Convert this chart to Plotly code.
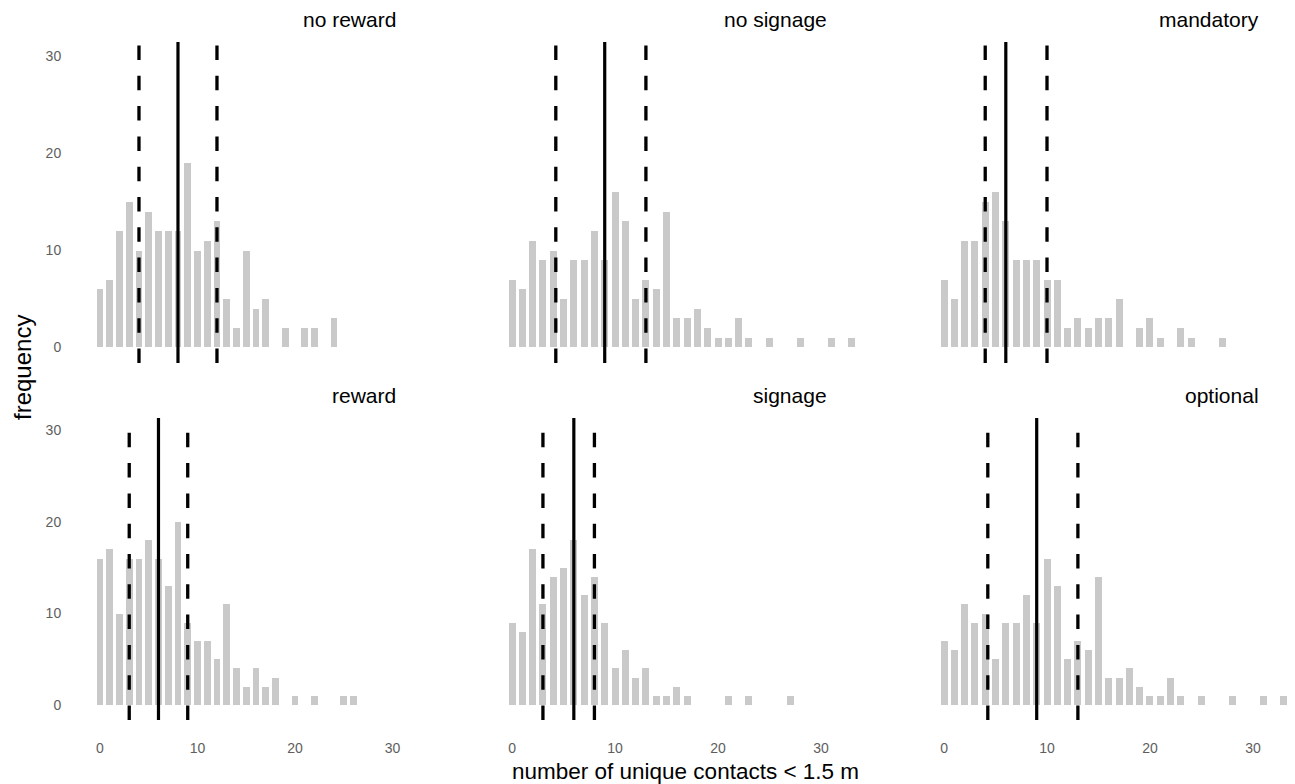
import plotly.graph_objects as go
from plotly.subplots import make_subplots

W, H = 1295, 784

# ---- data (frequency of number of unique contacts, bins 0,1,2,...) ----
panel_titles = ["no reward", "no signage", "mandatory", "reward", "signage", "optional"]

freq_no_reward = [6, 7, 12, 15, 10, 14, 12, 12, 12, 19, 10, 11, 13, 5, 2, 10, 4, 5, 0, 2, 0, 2, 2, 0, 3]
freq_no_signage = [7, 6, 11, 9, 10, 5, 9, 9, 12, 9, 16, 13, 5, 7, 6, 14, 3, 3, 4, 2, 1, 1, 3, 1,
                   0, 1, 0, 0, 1, 0, 0, 1, 0, 1]
freq_mandatory = [7, 5, 11, 11, 15, 16, 13, 9, 9, 9, 7, 7, 2, 3, 2, 3, 3, 5, 0, 2, 3, 1, 0, 2,
                  1, 0, 0, 1]
freq_reward = [16, 17, 10, 16, 16, 18, 16, 13, 20, 9, 7, 7, 5, 11, 4, 2, 4, 2, 3, 0, 1, 0, 1, 0,
               0, 1, 1]
freq_signage = [9, 8, 17, 11, 14, 15, 18, 12, 14, 9, 4, 6, 3, 4, 1, 1, 2, 1, 0, 0, 0, 1, 0, 1,
                0, 0, 0, 1]
freq_optional = [7, 6, 11, 9, 10, 5, 9, 9, 12, 9, 16, 13, 5, 7, 6, 14, 3, 3, 4, 2, 1, 1, 3, 1,
                 0, 1, 0, 0, 1, 0, 0, 1, 0, 1]

# (lower quantile, median, upper quantile) per panel
lower_q = [4, 4.25, 4, 3, 3, 4.25]
median_v = [8, 9, 6, 6, 6, 9]
upper_q = [12, 13, 10, 9, 8, 13]

x_ticks = [0, 10, 20, 30]
y_ticks = [0, 10, 20, 30]

all_freqs = [freq_no_reward, freq_no_signage, freq_mandatory,
             freq_reward, freq_signage, freq_optional]

# ---- layout geometry (pixels) ----
col_px = [(80, 410), (490, 870), (922, 1290)]
row_px = [(42, 363), (418, 720)]
x_ranges = [[-2.05, 31.8], [-2.14, 34.76], [-2.14, 33.6]]
y_ranges = [[-1.6, 31.5], [-1.64, 31.37]]

fig = make_subplots(rows=2, cols=3)

BAR_COL = "#c9c9c9"
TICK_COL = "#5e5e5e"
FONT = "Liberation Sans, Arial, sans-serif"

for i, freqs in enumerate(all_freqs):
    r, c = i // 3 + 1, i % 3 + 1
    fig.add_trace(
        go.Bar(x=list(range(len(freqs))), y=freqs, width=0.68,
               marker=dict(color=BAR_COL, line=dict(width=0)),
               showlegend=False, hoverinfo="x+y"),
        row=r, col=c)
    fig.add_vline(x=median_v[i], row=r, col=c,
                  line=dict(color="black", width=3.2))
    for q in (lower_q[i], upper_q[i]):
        fig.add_vline(x=q, row=r, col=c,
                      line=dict(color="black", width=3.3, dash="14.5px,15.8px"))

for i in range(6):
    r, c = i // 3, i % 3
    idx = "" if i == 0 else str(i + 1)
    x0, x1 = col_px[c]
    y0, y1 = row_px[r]
    fig.layout["xaxis" + idx].update(
        domain=[x0 / W, x1 / W], range=x_ranges[c], tickvals=x_ticks,
        showticklabels=(r == 1), showgrid=False, zeroline=False, showline=False,
        ticks="outside" if r == 1 else "", ticklen=15, tickcolor="rgba(0,0,0,0)",
        tickfont=dict(size=14, color=TICK_COL, family=FONT), automargin=False)
    fig.layout["yaxis" + idx].update(
        domain=[1 - y1 / H, 1 - y0 / H], range=y_ranges[r], tickvals=y_ticks,
        showticklabels=(c == 0), showgrid=False, zeroline=False, showline=False,
        ticks="outside" if c == 0 else "", ticklen=15, tickcolor="rgba(0,0,0,0)",
        tickfont=dict(size=14, color=TICK_COL, family=FONT), automargin=False)

# strip titles (right aligned)
title_right_px = [398, 829, 1261]
title_center_py = [20, 396]
for i, t in enumerate(panel_titles):
    r, c = i // 3, i % 3
    fig.add_annotation(text=t, xref="paper", yref="paper",
                       x=title_right_px[c] / W, y=1 - title_center_py[r] / H,
                       xanchor="right", yanchor="middle", showarrow=False,
                       font=dict(size=21, color="black", family=FONT))

# axis titles
fig.add_annotation(text="number of unique contacts < 1.5 m", xref="paper", yref="paper",
                   x=685 / W, y=1 - 771 / H, xanchor="center", yanchor="middle",
                   showarrow=False, borderpad=0,
                   font=dict(size=22.5, color="black", family=FONT))
fig.add_annotation(text="frequency", xref="paper", yref="paper",
                   x=23 / W, y=1 - 367 / H, xanchor="center", yanchor="middle",
                   textangle=-90, showarrow=False,
                   font=dict(size=24, color="black", family=FONT))

fig.update_layout(
    width=W, height=H,
    margin=dict(l=0, r=0, t=0, b=0),
    plot_bgcolor="white", paper_bgcolor="white",
    bargap=0, showlegend=False,
    font=dict(family=FONT),
)

fig.write_html("out.html", config={"displayModeBar": False},
               post_script="document.body.style.margin='0';document.body.style.overflow='hidden';")
